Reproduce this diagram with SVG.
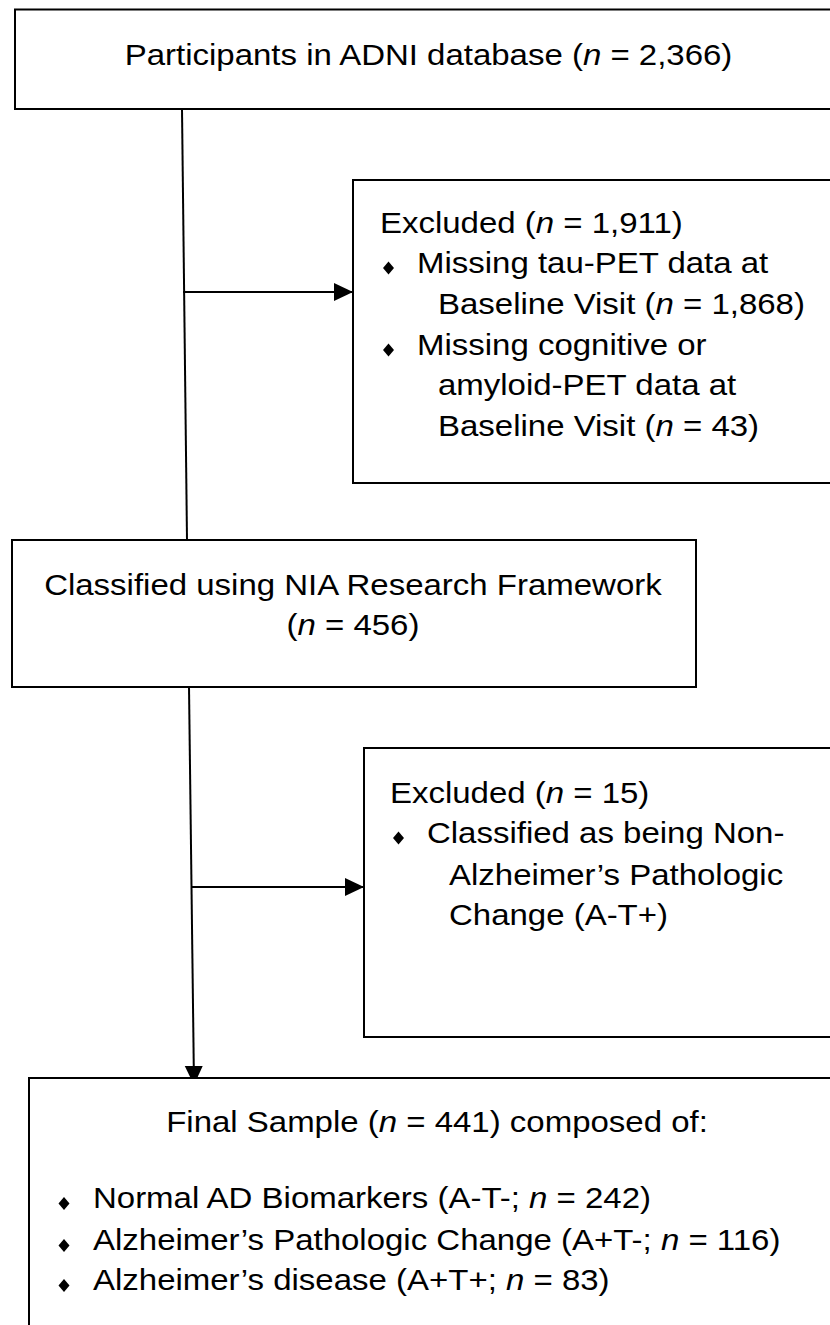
<svg xmlns="http://www.w3.org/2000/svg" xmlns:xlink="http://www.w3.org/1999/xlink" width="830" height="1325" viewBox="0 0 830 1325">
<defs>
<style>
.box{fill:#fff;stroke:#000;stroke-width:2}
.t{font-family:"Liberation Sans",Arial,sans-serif;font-size:30.3px;fill:#000}
.c{text-anchor:middle}
.i{font-style:italic}
.conn{stroke:#000;stroke-width:2;fill:none}
</style>
<marker id="arr" markerUnits="userSpaceOnUse" markerWidth="20" markerHeight="20" viewBox="0 0 20 20" refX="19" refY="10" orient="auto">
<path d="M0,1 L19,10 L0,19 Z" fill="#000"/>
</marker>
<path id="bul" d="M0,-6.5 L5.5,0 L0,6.5 L-5.5,0 Z" fill="#000"/>
</defs>
<rect width="830" height="1325" fill="#fff"/>
<g id="connectors">
<line class="conn" x1="182" y1="109" x2="187" y2="540"/>
<line class="conn" x1="183" y1="292" x2="353" y2="292" marker-end="url(#arr)"/>
<line class="conn" x1="189" y1="687" x2="194" y2="1085" marker-end="url(#arr)"/>
<line class="conn" x1="191" y1="887" x2="364" y2="887" marker-end="url(#arr)"/>
</g>
<g id="participants">
<rect class="box" x="15" y="9.5" width="840" height="99.5"/>
<g transform="scale(1.089,1)">
<text class="t c" x="393.5" y="65">Participants in ADNI database (<tspan class="i">n</tspan> = 2,366)</text>
</g>
</g>
<g id="excluded1">
<rect class="box" x="353" y="180" width="500" height="303"/>
<use href="#bul" x="388.5" y="268"/>
<use href="#bul" x="388.5" y="350"/>
<g transform="scale(1.089,1)">
<text class="t" x="348.9" y="233">Excluded (<tspan class="i">n</tspan> = 1,911)</text>
<text class="t" x="382.9" y="273">Missing tau-PET data at</text>
<text class="t" x="402.2" y="314">Baseline Visit (<tspan class="i">n</tspan> = 1,868)</text>
<text class="t" x="382.9" y="355">Missing cognitive or</text>
<text class="t" x="402.2" y="395">amyloid-PET data at</text>
<text class="t" x="402.2" y="436">Baseline Visit (<tspan class="i">n</tspan> = 43)</text>
</g>
</g>
<g id="classified">
<rect class="box" x="12" y="540" width="684" height="147"/>
<g transform="scale(1.089,1)">
<text class="t c" x="324.1" y="595">Classified using NIA Research Framework</text>
<text class="t c" x="324.1" y="635">(<tspan class="i">n</tspan> = 456)</text>
</g>
</g>
<g id="excluded2">
<rect class="box" x="364" y="748" width="500" height="289"/>
<use href="#bul" x="398.5" y="838"/>
<g transform="scale(1.089,1)">
<text class="t" x="358.1" y="803">Excluded (<tspan class="i">n</tspan> = 15)</text>
<text class="t" x="392.1" y="843">Classified as being Non-</text>
<text class="t" x="412.3" y="885">Alzheimer’s Pathologic</text>
<text class="t" x="412.3" y="925">Change (A-T+)</text>
</g>
</g>
<g id="final">
<rect class="box" x="29" y="1078" width="830" height="300"/>
<use href="#bul" x="64" y="1203.5"/>
<use href="#bul" x="64" y="1245.5"/>
<use href="#bul" x="64" y="1285.5"/>
<g transform="scale(1.089,1)">
<text class="t c" x="401.3" y="1132">Final Sample (<tspan class="i">n</tspan> = 441) composed of:</text>
<text class="t" x="85.4" y="1208">Normal AD Biomarkers (A-T-; <tspan class="i">n</tspan> = 242)</text>
<text class="t" x="85.4" y="1250">Alzheimer’s Pathologic Change (A+T-; <tspan class="i">n</tspan> = 116)</text>
<text class="t" x="85.4" y="1290">Alzheimer’s disease (A+T+; <tspan class="i">n</tspan> = 83)</text>
</g>
</g>
</svg>
